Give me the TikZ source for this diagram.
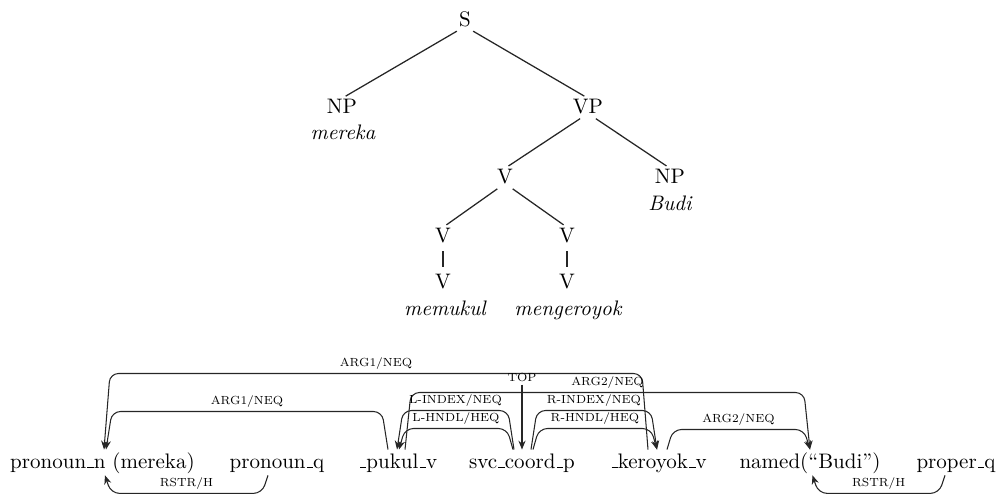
\documentclass[tikz,border=0pt]{standalone}
\usetikzlibrary{arrows.meta,calc}
% narrow underscore rule, as in the classic OT1 fonts
\newcommand{\usc}{\leavevmode\kern.06em\vbox{\hrule width.3em}}
\begin{document}
\begin{tikzpicture}[x=0.476pt,y=-0.476pt,
  tnode/.style={anchor=base,inner sep=0pt,text height=6.8pt,text depth=0pt},
  leaf/.style={anchor=base,inner sep=0pt,font=\itshape},
  branch/.style={draw=black!85,line width=0.6pt,shorten <=4.5pt,shorten >=2pt},
  unary/.style={draw=black!85,line width=0.6pt,shorten <=4.2pt,shorten >=3.2pt},
  word/.style={anchor=base,inner sep=0pt,text height=8.6pt,text depth=3.3pt},
  dep/.style={draw=black!85,line width=0.5pt,rounded corners=4pt,-{Stealth[length=4.2pt,width=3.4pt]}},
  lbl/.style={font=\fontsize{7}{8}\selectfont,scale=0.8,transform shape,above,inner sep=2.4pt},
]
\useasboundingbox (0,0) rectangle (999,495);

% phrase structure tree
\node[tnode] (s)   at (465,26)  {S};
\node[tnode] (np1) at (342,113) {NP};
\node[leaf]  (w1)  at (343,139) {mereka};
\node[tnode] (vp)  at (588,113) {VP};
\node[tnode] (v)   at (505,183) {V};
\node[tnode] (np2) at (670,183) {NP};
\node[leaf]  (w2)  at (670,210) {Budi};
\node[tnode] (va)  at (443,242) {V};
\node[tnode] (vb)  at (567,242) {V};
\node[tnode] (va2) at (443,288) {V};
\node[tnode] (vb2) at (567,288) {V};
\node[leaf]  (w3)  at (445,315) {memukul};
\node[leaf]  (w4)  at (568,315) {mengeroyok};

\draw[branch] (s.south) -- (np1.north);
\draw[branch] (s.south) -- (vp.north);
\draw[branch] (vp.south) -- (v.north);
\draw[branch] (vp.south) -- (np2.north);
\draw[branch] (v.south) -- (va.north);
\draw[branch] (v.south) -- (vb.north);
\draw[unary] (va.south) -- (va2.north);
\draw[unary] (vb.south) -- (vb2.north);

% DMRS nodes
\node[word] (pn)  at (102.5,468) {pronoun\usc n (mereka)};
\node[word] (pq)  at (277,468)   {pronoun\usc q};
\node[word] (pk)  at (398,468)   {\usc pukul\usc v};
\node[word] (svc) at (522,468)   {svc\usc coord\usc p};
\node[word] (ker) at (658.5,468) {\usc keroyok\usc v};
\node[word] (nm)  at (810,468)   {named(``Budi'')};
\node[word] (prq) at (956,468)   {proper\usc q};

% links above the nodes
\draw[dep] ($(ker.north)+(-10.5,0)$) -- ++(-6,-76)
  -- node[lbl] (l1) {ARG1/NEQ} ($(pn.north)+(7.5,-76)$) -- ($(pn.north)+(1.5,0)$);
\draw[dep] ($(pk.north)+(-10,0)$) -- ++(-6,-38)
  -- node[lbl] (l2) {ARG1/NEQ} ($(pn.north)+(9.5,-38)$) -- ($(pn.north)+(3.5,0)$);
\draw[dep] ($(pk.north)+(7,0)$) -- ++(6,-57)
  -- node[lbl] (l3) {ARG2/NEQ} ($(nm.north)+(-6,-57)$) -- (nm.north);
\draw[dep] ($(svc.north)+(-8,0)$) -- ++(-6,-39)
  -- node[lbl] (l4) {L-INDEX/NEQ} ($(pk.north)+(5,-39)$) -- ($(pk.north)+(-1,0)$);
\draw[dep] ($(svc.north)+(-9,0)$) -- ++(-6,-21)
  -- node[lbl] (l5) {L-HNDL/HEQ} ($(pk.north)+(7,-21)$) -- ($(pk.north)+(1,0)$);
\draw[dep] ($(svc.north)+(9,0)$) -- ++(6,-39)
  -- node[lbl] (l6) {R-INDEX/NEQ} ($(ker.north)+(-7.5,-39)$) -- ($(ker.north)+(-1.5,0)$);
\draw[dep] ($(svc.north)+(11,0)$) -- ++(6,-21)
  -- node[lbl] (l7) {R-HNDL/HEQ} ($(ker.north)+(-7.5,-21)$) -- ($(ker.north)+(-1.5,0)$);
\draw[dep] ($(ker.north)+(8.5,0)$) -- ++(6,-20)
  -- node[lbl] (l8) {ARG2/NEQ} ($(nm.north)+(-6,-20)$) -- (nm.north);

% top pointer
\coordinate (top) at ($(svc.north)+(0,-65)$);
\node[lbl,inner sep=1.5pt] (toplbl) at (top) {TOP};
\draw[dep] (top) -- (svc.north);

% links below the nodes
\draw[dep] ($(pq.south)+(-9,0)$) -- ++(-6,18)
  -- node[lbl,inner sep=1.8pt] (l9) {RSTR/H} ($(pn.south)+(8.5,18)$) -- ($(pn.south)+(2.5,0)$);
\draw[dep] ($(prq.south)+(-11,0)$) -- ++(-6,18)
  -- node[lbl,inner sep=1.8pt] (l10) {RSTR/H} ($(nm.south)+(8.5,18)$) -- ($(nm.south)+(2.5,0)$);
\end{tikzpicture}
\end{document}
